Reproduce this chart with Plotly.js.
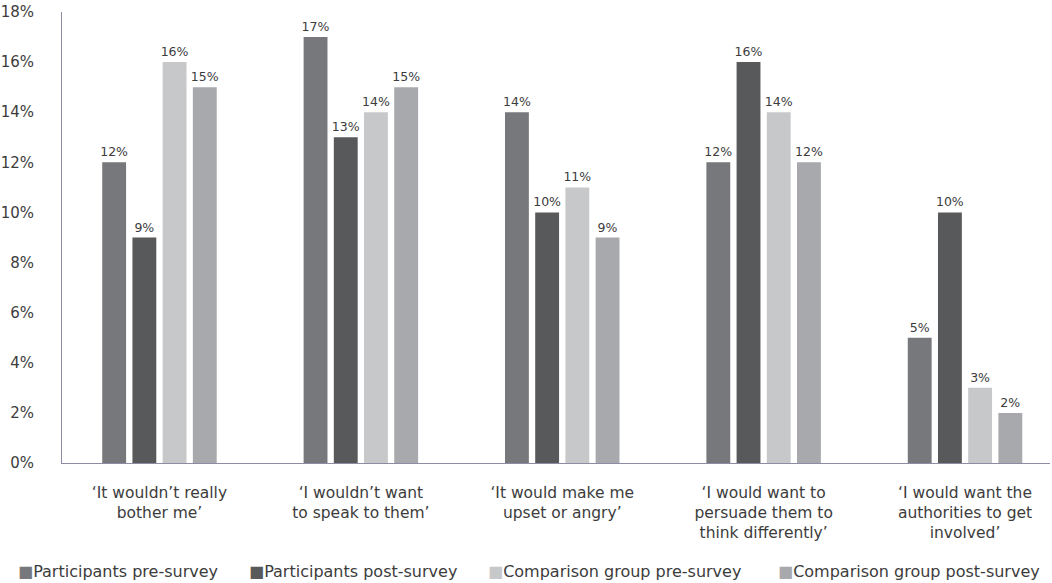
<!DOCTYPE html>
<html><head><meta charset="utf-8">
<script src="https://cdn.plot.ly/plotly-3.0.1.min.js"></script>
<style>html,body{margin:0;padding:0;background:#fff}</style>
</head><body>
<div id="chart" style="width:1052px;height:583px"></div>
<script>
const categories = [
  "‘It wouldn’t really<br>bother me’",
  "‘I wouldn’t want<br>to speak to them’",
  "‘It would make me<br>upset or angry’",
  "‘I would want to<br>persuade them to<br>think differently’",
  "‘I would want the<br>authorities to get<br>involved’"
];
const seriesNames = ["Participants pre-survey","Participants post-survey","Comparison group pre-survey","Comparison group post-survey"];
const participantsPre = [12, 17, 14, 12, 5];
const participantsPost = [9, 13, 10, 16, 10];
const comparisonPre = [16, 14, 11, 14, 3];
const comparisonPost = [15, 15, 9, 12, 2];
const yTicks = [0,2,4,6,8,10,12,14,16,18];

const colors = ["#77787b","#58595b","#c7c8ca","#a7a9ac"];
const allSeries = [participantsPre, participantsPost, comparisonPre, comparisonPost];
const font = "DejaVu Sans, sans-serif";
const textColor = "#3c3c3c";

const traces = allSeries.map((vals, i) => ({
  type: "bar",
  name: seriesNames[i],
  x: categories,
  y: vals,
  marker: {color: colors[i]},
  text: vals.map(v => v + "%"),
  textposition: "outside",
  constraintext: "none",
  cliponaxis: false,
  textfont: {family: font, size: 12.5, color: textColor},
  hoverinfo: "none"
}));

// legend drawn as annotations (square + label), left-aligned at reference pixel spots
const W = 1052, H = 583, mL = 62, mR = 2, mT = 12, mB = 120;
const pw = W - mL - mR, ph = H - mT - mB;
const legendX = [16, 247, 486, 776];
const legendY = 571;
const annotations = seriesNames.map((n, i) => ({
  xref: "paper", yref: "paper",
  x: (legendX[i] - mL) / pw, y: (H - mB - legendY) / ph,
  xanchor: "left", yanchor: "middle",
  showarrow: false,
  text: '<span style="color:' + colors[i] + '">■</span>' + n,
  font: {family: font, size: 16, color: textColor}
}));

const layout = {
  width: W, height: H,
  margin: {l: mL, r: mR, t: mT, b: mB},
  paper_bgcolor: "#fff", plot_bgcolor: "#fff",
  barmode: "group",
  bargap: 0.4,
  bargroupgap: 0.21,
  font: {family: font, color: textColor},
  showlegend: false,
  annotations: annotations,
  xaxis: {
    range: [-0.484, 4.422],
    showline: true, linecolor: "#8e8ca5", linewidth: 1,
    showgrid: false, zeroline: false, ticks: "",
    tickfont: {family: font, size: 15.5, color: textColor},
    ticklabelstandoff: 15, automargin: false
  },
  yaxis: {
    range: [0, 18], tickvals: yTicks, ticktext: yTicks.map(v => v + "%"),
    showline: true, linecolor: "#8e8ca5", linewidth: 1,
    showgrid: false, zeroline: false, ticks: "",
    tickfont: {family: font, size: 15, color: textColor},
    ticklabelstandoff: 24, automargin: false
  }
};
Plotly.newPlot("chart", traces, layout, {displayModeBar: false, staticPlot: true});
</script>
</body></html>
